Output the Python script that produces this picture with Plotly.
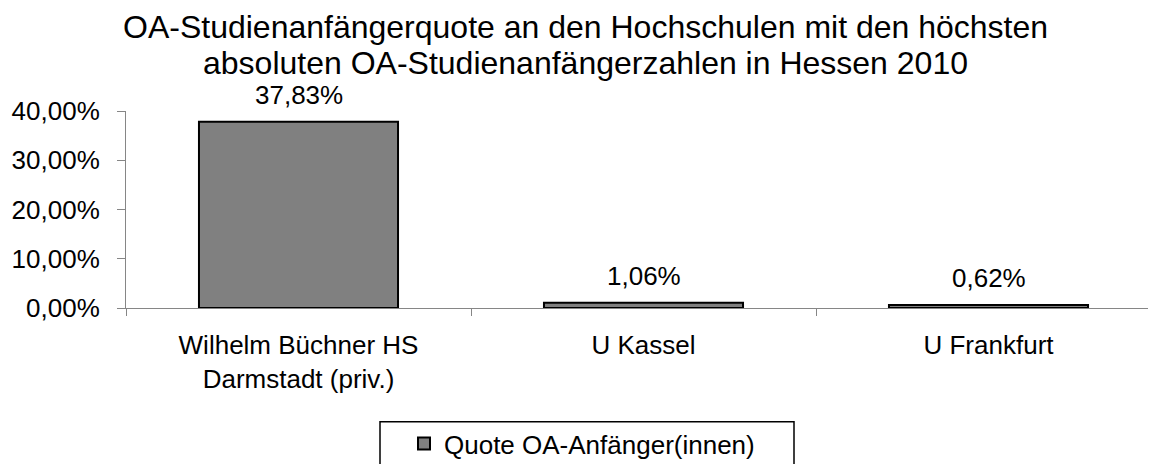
import plotly.graph_objects as go

categories = ["Wilhelm Büchner HS<br>Darmstadt (priv.)", "U Kassel", "U Frankfurt"]
quote = [0.3783, 0.0106, 0.0062]
series_name = "Quote OA-Anfänger(innen)"
y_ticks = [0.0, 0.1, 0.2, 0.3, 0.4]
title_lines = ["OA-Studienanfängerquote an den Hochschulen mit den höchsten",
               "absoluten OA-Studienanfängerzahlen in Hessen 2010"]

FONT = "Arial, Liberation Sans, sans-serif"
AXIS = "#868686"
W, H = 1156, 464
OFF = 8  # page body margin offset
L, T, B, R = 126 - OFF, 111 - OFF, H - (308 - OFF), 3
PW, PH = W - L - R, H - T - B


def px_x(x):
    """page x (reference pixels) -> paper coordinate"""
    return (x - OFF - L) / PW


def px_y(y):
    """page y (reference pixels) -> paper coordinate"""
    return (H - B - (y - OFF)) / PH


fig = go.Figure()
fig.add_trace(go.Bar(
    x=categories, y=quote, name=series_name,
    width=0.577,
    marker=dict(color="#808080", line=dict(color="#000000", width=2)),
    showlegend=True,
))

annotations = []
for c, v in zip(categories, quote):
    annotations.append(dict(
        x=c, y=v, xref="x", yref="y", text=f"{v * 100:.2f}%".replace(".", ","),
        showarrow=False, xanchor="center", yanchor="bottom", yshift=10,
        font=dict(size=26, family=FONT, color="#000000")))
for line, ypx in zip(title_lines, [27, 63]):
    annotations.append(dict(
        x=px_x(585), y=px_y(ypx), xref="paper", yref="paper", text=line,
        showarrow=False, xanchor="center", yanchor="middle",
        font=dict(size=32, family=FONT, color="#000000")))

fig.update_layout(
    width=W, height=H,
    margin=dict(l=L, r=R, t=T, b=B, autoexpand=False),
    paper_bgcolor="white", plot_bgcolor="white",
    separators=",.",
    font=dict(family=FONT, color="#000000", size=26),
    xaxis=dict(range=[-0.5, 2.5], showline=True, linecolor=AXIS, linewidth=1,
               tickson="boundaries", ticks="outside", ticklen=7, tickcolor=AXIS,
               tickfont=dict(size=26), ticklabelstandoff=14,
               showgrid=False, zeroline=False, automargin=False),
    yaxis=dict(range=[0, 0.4], tickvals=y_ticks, tickformat=".2%",
               showline=True, linecolor=AXIS, linewidth=1,
               ticks="outside", ticklen=8, tickcolor=AXIS,
               tickfont=dict(size=26), ticklabelstandoff=12,
               showgrid=False, zeroline=False, automargin=False),
    legend=dict(orientation="h", x=px_x(404), xanchor="left",
                y=px_y(420), yanchor="top",
                bgcolor="rgba(0,0,0,0)", borderwidth=0,
                font=dict(size=26)),
    shapes=[dict(type="rect", xref="paper", yref="paper",
                 x0=px_x(380), x1=px_x(794), y0=px_y(421.7), y1=px_y(490),
                 line=dict(color="#000000", width=1.5), fillcolor="rgba(0,0,0,0)")],
    annotations=annotations,
    showlegend=True,
)

fig.write_html("out.html")
